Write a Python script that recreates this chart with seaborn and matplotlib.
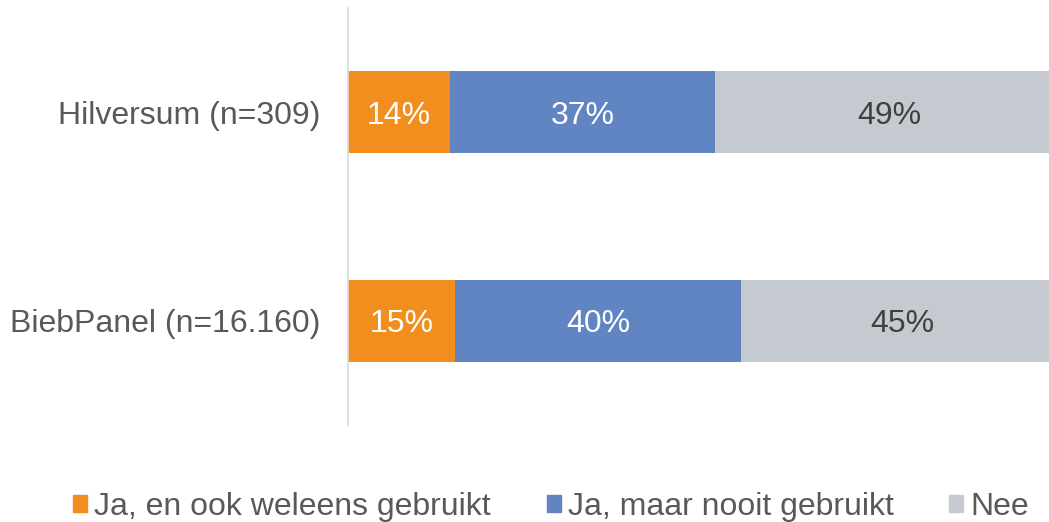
import matplotlib
matplotlib.use("Agg")
import matplotlib.pyplot as plt
import matplotlib.patches as mpatches
import numpy as np
import pandas as pd
import seaborn as sns

##########################################################
# Data
##########################################################

groups = ["Hilversum (n=309)", "BiebPanel (n=16.160)"]
series = ["Ja, en ook weleens gebruikt", "Ja, maar nooit gebruikt", "Nee"]
ja_gebruikt = [14.3, 15.0]
ja_nooit = [37.0, 40.0]
nee = [48.7, 45.0]
labels = [["14%", "37%", "49%"], ["15%", "40%", "45%"]]

colors = ["#F28E1E", "#6184C2", "#C5CAD1"]
label_colors = ["white", "white", "#404040"]

##########################################################
# Style
##########################################################

sns.set_theme(style="white")
plt.rcParams["font.family"] = ["Liberation Sans", "DejaVu Sans"]

df = pd.DataFrame({
    "group": groups,
    "s1": ja_gebruikt,
    "s2": ja_nooit,
    "s3": nee,
})
df["c1"] = df["s1"]
df["c2"] = df["s1"] + df["s2"]
df["c3"] = df["c2"] + df["s3"]

fig = plt.figure(figsize=(10.49, 5.22), dpi=100)
ax = fig.add_axes([348 / 1049, 1 - 425 / 522, 715 / 1049, 417 / 522])

# stacked bars: draw cumulative totals from largest to smallest
for col, color in zip(["c3", "c2", "c1"], colors[::-1]):
    sns.barplot(
        data=df,
        x=col,
        y="group",
        color=color,
        width=0.395,
        saturation=1,
        linewidth=0,
        ax=ax,
        orient="h",
    )

# segment labels
for i in range(len(groups)):
    starts = [0, df["c1"][i], df["c2"][i]]
    ends = [df["c1"][i], df["c2"][i], df["c3"][i]]
    for j in range(3):
        ax.text(
            (starts[j] + ends[j]) / 2, i, labels[i][j],
            ha="center", va="center_baseline",
            fontsize=23, color=label_colors[j],
        )

ax.set_xlim(0, 100)
ax.set_ylim(1.5, -0.5)
ax.set_xlabel("")
ax.set_ylabel("")
ax.set_xticks([])
ax.tick_params(axis="y", length=0, pad=20, labelsize=23, labelcolor="#595959")

for side in ["top", "right", "bottom"]:
    ax.spines[side].set_visible(False)
ax.spines["left"].set_color("#D9D9D9")
ax.spines["left"].set_linewidth(1.2)

##########################################################
# Legend
##########################################################

handles = [mpatches.Patch(color=c, label=s) for c, s in zip(colors, series)]
fig.legend(
    handles=handles,
    loc="center",
    bbox_to_anchor=(551 / 1049, 1 - 507 / 522),
    ncol=3,
    frameon=False,
    fontsize=23,
    labelcolor="#595959",
    handlelength=0.44,
    handleheight=0.44,
    handletextpad=0.22,
    columnspacing=1.75,
    borderpad=0,
)

fig.savefig("out.png", dpi=100)
